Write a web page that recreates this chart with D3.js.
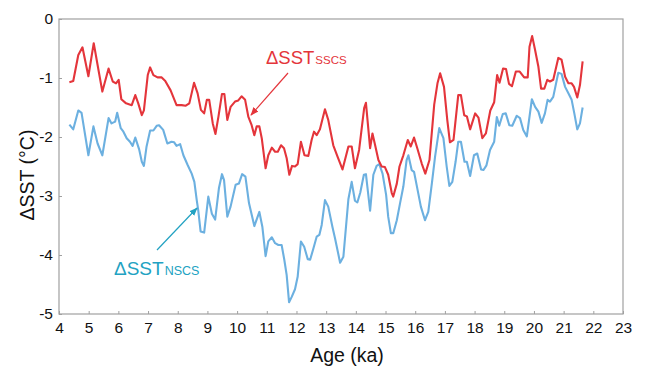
<!DOCTYPE html>
<html>
<head>
<meta charset="utf-8">
<script src="https://cdn.jsdelivr.net/npm/d3@7"></script>
<style>
  body { margin: 0; background: #fff; }
  text { font-family: "Liberation Sans", Arial, sans-serif; }
</style>
</head>
<body>
<div id="chart"></div>
<script>
// SSCS record (red)
var ageS = [4.35,4.48,4.65,4.79,4.99,5.17,5.30,5.46,5.67,5.81,5.92,6.01,6.10,6.26,6.45,6.57,6.67,6.79,6.86,6.99,
  7.07,7.18,7.32,7.46,7.58,7.76,7.96,8.13,8.27,8.39,8.55,8.67,8.78,8.89,8.98,9.06,9.18,9.27,9.37,9.49,
  9.57,9.67,9.78,9.93,10.04,10.15,10.27,10.38,10.49,10.58,10.66,10.75,10.83,10.96,11.05,11.17,11.28,11.37,11.48,11.58,
  11.67,11.76,11.85,11.95,12.04,12.15,12.27,12.40,12.51,12.59,12.68,12.79,12.96,13.07,13.24,13.38,13.55,13.75,13.86,13.97,
  14.11,14.28,14.34,14.48,14.56,14.65,14.76,14.87,14.98,15.09,15.21,15.26,15.38,15.47,15.60,15.75,15.85,15.96,16.07,16.22,
  16.34,16.48,16.64,16.75,16.84,16.97,17.08,17.17,17.29,17.45,17.54,17.65,17.74,17.85,18.02,18.13,18.26,18.38,18.53,18.66,
  18.76,18.84,18.96,19.06,19.16,19.26,19.39,19.52,19.67,19.79,19.85,19.94,20.04,20.15,20.24,20.35,20.45,20.54,20.65,20.82,
  20.93,21.05,21.16,21.27,21.35,21.46,21.55,21.64];
var sstS = [-1.07,-1.05,-0.61,-0.48,-0.97,-0.41,-0.78,-1.23,-0.84,-1.06,-1.09,-1.03,-1.36,-1.43,-1.46,-1.29,-1.43,-1.63,-1.55,-0.95,
  -0.82,-0.95,-0.99,-0.99,-1.05,-1.21,-1.46,-1.46,-1.47,-1.43,-1.08,-1.26,-1.54,-1.60,-1.37,-1.37,-1.77,-1.95,-1.66,-1.27,
  -1.27,-1.71,-1.49,-1.40,-1.38,-1.31,-1.37,-1.66,-1.80,-1.97,-1.82,-1.82,-2.02,-2.53,-2.31,-2.18,-2.25,-2.25,-2.14,-2.19,
  -2.36,-2.64,-2.49,-2.50,-2.46,-2.08,-2.31,-2.32,-2.05,-1.91,-1.97,-1.87,-1.53,-1.71,-2.14,-2.33,-2.55,-2.16,-2.16,-2.53,
  -2.22,-1.51,-1.42,-2.19,-1.94,-2.14,-2.39,-2.50,-2.51,-2.64,-2.95,-3.01,-2.79,-2.50,-2.31,-2.05,-2.16,-2.01,-2.19,-2.45,
  -2.62,-2.39,-1.45,-1.09,-0.92,-1.15,-1.71,-2.09,-2.05,-1.29,-1.29,-1.63,-1.65,-1.87,-1.60,-1.67,-2.02,-1.94,-1.55,-1.41,
  -0.95,-1.08,-0.84,-0.85,-1.10,-1.14,-0.89,-0.89,-0.99,-0.99,-0.47,-0.29,-0.53,-0.81,-1.18,-1.18,-1.03,-1.06,-1.03,-0.66,
  -0.69,-0.98,-1.09,-1.09,-1.15,-1.33,-1.12,-0.72];

// NSCS record (blue)
var ageN = [4.35,4.48,4.65,4.76,4.99,5.16,5.30,5.46,5.67,5.77,5.89,5.96,6.08,6.17,6.28,6.39,6.48,6.57,6.70,6.79,
  6.86,6.95,7.07,7.18,7.29,7.37,7.51,7.65,7.79,7.88,7.96,8.08,8.19,8.33,8.47,8.56,8.64,8.69,8.77,8.89,
  9.03,9.15,9.26,9.39,9.49,9.56,9.67,9.78,9.95,10.06,10.17,10.28,10.40,10.58,10.75,10.85,10.96,11.05,11.17,11.28,
  11.39,11.50,11.59,11.67,11.75,11.84,11.95,12.04,12.15,12.26,12.38,12.46,12.57,12.68,12.77,12.85,12.96,13.07,13.21,13.30,
  13.47,13.58,13.75,13.86,13.97,14.05,14.15,14.27,14.34,14.48,14.59,14.70,14.79,14.90,15.02,15.09,15.18,15.26,15.38,15.49,
  15.60,15.71,15.77,15.88,15.96,16.07,16.19,16.33,16.44,16.56,16.67,16.81,16.95,17.06,17.15,17.25,17.36,17.45,17.54,17.66,
  17.74,17.85,17.98,18.09,18.22,18.30,18.40,18.52,18.66,18.75,18.83,18.95,19.05,19.17,19.27,19.42,19.53,19.64,19.76,19.93,
  20.04,20.15,20.26,20.37,20.46,20.54,20.65,20.82,20.93,21.05,21.16,21.27,21.36,21.46,21.55,21.64];
var sstN = [-1.79,-1.87,-1.55,-1.59,-2.31,-1.82,-2.11,-2.31,-1.68,-1.77,-1.74,-1.59,-1.85,-1.91,-2.02,-2.08,-2.15,-2.01,-2.21,-2.42,
  -2.49,-2.16,-1.89,-1.89,-1.81,-1.80,-1.88,-2.11,-2.08,-2.09,-2.15,-2.12,-2.31,-2.47,-2.62,-2.76,-3.07,-3.24,-3.60,-3.62,
  -3.01,-3.30,-3.40,-2.86,-2.63,-2.73,-3.35,-3.18,-2.81,-2.79,-2.63,-2.67,-3.12,-3.51,-3.27,-3.52,-4.02,-3.77,-3.70,-3.80,
  -3.83,-3.83,-4.08,-4.34,-4.80,-4.71,-4.58,-4.37,-3.77,-3.86,-4.07,-4.08,-3.89,-3.69,-3.66,-3.49,-3.07,-3.18,-3.52,-3.72,
  -4.13,-4.03,-3.05,-2.76,-3.08,-3.11,-2.94,-2.64,-2.63,-3.25,-2.64,-2.49,-2.46,-2.62,-2.98,-3.35,-3.63,-3.63,-3.41,-3.12,
  -2.84,-2.39,-2.31,-2.56,-2.59,-2.87,-3.18,-3.41,-3.27,-2.79,-2.33,-1.85,-2.02,-2.50,-2.83,-2.76,-2.42,-2.08,-2.08,-2.42,
  -2.42,-2.66,-2.31,-2.28,-2.55,-2.56,-2.48,-2.22,-2.08,-1.66,-1.81,-1.61,-1.60,-1.80,-1.81,-1.64,-1.68,-1.88,-1.99,-1.36,
  -1.49,-1.57,-1.76,-1.60,-1.37,-1.40,-1.32,-0.91,-0.93,-1.15,-1.26,-1.37,-1.60,-1.87,-1.77,-1.50];

var xTicks = d3.range(4, 24, 1);
var yTicks = [0, -1, -2, -3, -4, -5];

var W = 645, H = 368;
var margin = { top: 19, right: 22, bottom: 54, left: 59 },
    width = W - margin.left - margin.right,
    height = H - margin.top - margin.bottom;

var red = "#e4353b", blue = "#6cb0e0", teal = "#22a2c2";

var svg = d3.select("#chart").append("svg")
    .attr("width", W)
    .attr("height", H);

var g = svg.append("g")
    .attr("transform", "translate(" + margin.left + "," + margin.top + ")");

var x = d3.scaleLinear().domain([4, 23]).range([0, width]);
var y = d3.scaleLinear().domain([-5, 0]).range([height, 0]);

// box
g.append("rect")
    .attr("width", width)
    .attr("height", height)
    .attr("fill", "none")
    .attr("stroke", "#a0a0a0")
    .attr("stroke-width", 1.2);

// axes, ticks pointing in
var xAxis = g.append("g")
    .attr("transform", "translate(0," + height + ")")
    .call(d3.axisBottom(x).tickValues(xTicks).tickSize(-3).tickPadding(8).tickFormat(d3.format("d")));
var yAxis = g.append("g")
    .call(d3.axisLeft(y).tickValues(yTicks).tickSize(-3).tickPadding(6).tickFormat(function(d) { return d === 0 ? "0" : "-" + Math.abs(d); }));

[xAxis, yAxis].forEach(function(a) {
  a.select(".domain").remove();
  a.selectAll(".tick line").attr("stroke", "#a0a0a0");
  a.selectAll(".tick text")
    .attr("fill", "#111")
    .style("font-size", "15.5px");
});
xAxis.selectAll(".tick text").attr("dy", "0.72em");

var lineS = d3.line().x(function(d, i) { return x(ageS[i]); }).y(function(d) { return y(d); });
var lineN = d3.line().x(function(d, i) { return x(ageN[i]); }).y(function(d) { return y(d); });

g.append("path")
    .datum(sstN)
    .attr("d", lineN)
    .attr("fill", "none")
    .attr("stroke", blue)
    .attr("stroke-width", 2.1)
    .attr("stroke-linejoin", "round");

g.append("path")
    .datum(sstS)
    .attr("d", lineS)
    .attr("fill", "none")
    .attr("stroke", red)
    .attr("stroke-width", 2.1)
    .attr("stroke-linejoin", "round");

// axis titles
svg.append("text")
    .attr("transform", "translate(34,175) rotate(-90)")
    .attr("text-anchor", "middle")
    .attr("fill", "#111")
    .style("font-size", "19.5px")
    .text("ΔSST (°C)");

svg.append("text")
    .attr("x", 347)
    .attr("y", 362)
    .attr("text-anchor", "middle")
    .attr("fill", "#111")
    .style("font-size", "19.5px")
    .text("Age (ka)");

// arrows
var defs = svg.append("defs");
function marker(id, col) {
  defs.append("marker")
      .attr("id", id)
      .attr("viewBox", "0 -5 10 10")
      .attr("refX", 9)
      .attr("refY", 0)
      .attr("markerWidth", 7)
      .attr("markerHeight", 7)
      .attr("orient", "auto")
    .append("path")
      .attr("d", "M0,-4L10,0L0,4Z")
      .attr("fill", col);
}
marker("arrR", red);
marker("arrB", teal);

svg.append("line")
    .attr("x1", 288).attr("y1", 73)
    .attr("x2", 251).attr("y2", 115)
    .attr("stroke", red)
    .attr("stroke-width", 1.2)
    .attr("marker-end", "url(#arrR)");

svg.append("line")
    .attr("x1", 157).attr("y1", 250)
    .attr("x2", 197).attr("y2", 208)
    .attr("stroke", teal)
    .attr("stroke-width", 1.2)
    .attr("marker-end", "url(#arrB)");

// series labels
var lblS = svg.append("text")
    .attr("x", 266)
    .attr("y", 64)
    .attr("fill", red)
    .style("font-size", "18.5px");
lblS.append("tspan").text("ΔSST");
lblS.append("tspan").style("font-size", "11.5px").attr("dx", 1).text("SSCS");

var lblN = svg.append("text")
    .attr("x", 114)
    .attr("y", 275)
    .attr("fill", teal)
    .style("font-size", "19px")
    ;
lblN.append("tspan").text("ΔSST");
lblN.append("tspan").style("font-size", "12.5px").attr("dx", 1).text("NSCS");
</script>
</body>
</html>
